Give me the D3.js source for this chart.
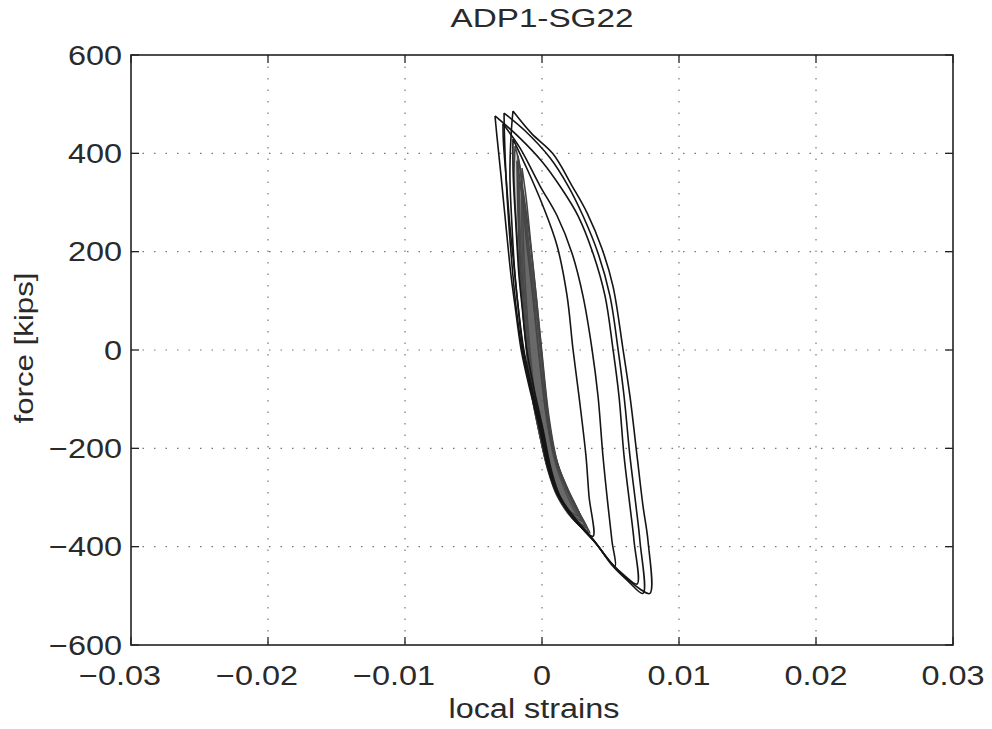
<!DOCTYPE html>
<html lang="en">
<head>
<meta charset="utf-8">
<title>ADP1-SG22</title>
<script src="https://cdnjs.cloudflare.com/ajax/libs/d3/7.8.5/d3.min.js"></script>
<style>
  body { margin: 0; background: #fff; }
  text { font-family: "Liberation Sans", Arial, sans-serif; fill: #2a2a2a; }
</style>
</head>
<body>
<div id="viz"></div>
<script>
// tick values and labels
const xTicks = [-0.03, -0.02, -0.01, 0, 0.01, 0.02, 0.03];
const xTickLabels = ["\u22120.03", "\u22120.02", "\u22120.01", "0", "0.01", "0.02", "0.03"];
const yTicks = [-600, -400, -200, 0, 200, 400, 600];
const yTickLabels = ["\u2212600", "\u2212400", "\u2212200", "0", "200", "400", "600"];

// large cycles: [strain, force], unloading branch then reloading branch
const loop1 = [[-0.00212,486],[-0.00075,440],[0.0008,399],[0.00219,334],[0.00329,279],[0.00438,206],[0.00518,130],[0.00591,2],[0.00642,-94],[0.00694,-216],[0.00737,-317],[0.00774,-389],[0.00788,-495],
  [0.00715,-486],[0.00533,-442],[0.0038,-389],[0.00234,-344],[0.00117,-293],[0.00051,-236],[-0.00007,-155],[-0.0008,-73],[-0.00139,2],[-0.00175,90],[-0.00197,151],[-0.00219,252],[-0.00234,354],[-0.00226,435],[-0.00212,486]];
const loop2 = [[-0.00277,482],[-0.00124,446],[0.00058,391],[0.0019,334],[0.00299,273],[0.00409,197],[0.00496,110],[0.00555,2],[0.00599,-94],[0.00642,-216],[0.00686,-317],[0.00715,-389],[0.00737,-495],
  [0.00628,-470],[0.00518,-440],[0.00372,-385],[0.00226,-342],[0.0011,-291],[0.00044,-236],[-0.00015,-155],[-0.00088,-73],[-0.00146,2],[-0.0019,90],[-0.00212,151],[-0.00241,252],[-0.00263,354],[-0.00274,435],[-0.00277,482]];
const loop3 = [[-0.00343,476],[-0.00161,431],[0.00007,381],[0.00139,330],[0.00263,273],[0.00372,197],[0.0046,110],[0.00518,2],[0.00562,-94],[0.00599,-216],[0.00642,-317],[0.00672,-389],[0.00694,-476],
  [0.00599,-458],[0.00511,-435],[0.00365,-383],[0.00219,-340],[0.00102,-289],[0.00037,-234],[-0.00022,-155],[-0.00095,-73],[-0.00153,2],[-0.00197,90],[-0.00226,151],[-0.00263,252],[-0.00299,354],[-0.00329,435],[-0.00343,476]];
const loop4 = [[-0.00285,460],[-0.00161,411],[-0.00015,334],[0.0011,273],[0.00219,197],[0.00299,110],[0.00365,2],[0.00409,-94],[0.00445,-216],[0.00482,-317],[0.00511,-389],[0.00533,-440],
  [0.00387,-391],[0.00241,-346],[0.00124,-295],[0.00058,-240],[0,-159],[-0.00073,-77],[-0.00131,-2],[-0.00175,90],[-0.00197,151],[-0.00234,252],[-0.00263,354],[-0.00282,425],[-0.00285,460]];
const loop5 = [[-0.00212,429],[-0.00102,364],[0.00007,293],[0.0011,212],[0.00183,110],[0.00226,2],[0.0027,-94],[0.00321,-216],[0.00343,-297],[0.00372,-379],
  [0.00241,-342],[0.00131,-297],[0.00066,-242],[0.00007,-161],[-0.00058,-79],[-0.0011,-2],[-0.00146,90],[-0.00168,151],[-0.0019,252],[-0.0021,354],[-0.00212,429]];

// small repeated cycles (dense band)
const band1 = [[-0.00197,415],[-0.00161,374],[-0.00124,267],[-0.00078,151],[-0.00032,12],[0.00032,-134],[0.00088,-216],[0.00172,-277],[0.00277,-338],[0.0035,-372],
  [0.00219,-342],[0.0011,-297],[0.00044,-246],[-0.00015,-175],[-0.00073,-94],[-0.00117,12],[-0.00161,151],[-0.0019,267],[-0.00204,354],[-0.00197,415]];
const band2 = [[-0.00175,395],[-0.00143,334],[-0.00104,232],[-0.00058,130],[-0.00012,12],[0.00044,-134],[0.001,-220],[0.00186,-281],[0.00292,-342],[0.00336,-368],
  [0.00219,-340],[0.00117,-295],[0.00051,-244],[-0.00007,-175],[-0.00066,-94],[-0.0011,12],[-0.00146,130],[-0.00168,252],[-0.00175,395]];
const band3 = [[-0.00146,370],[-0.00117,313],[-0.0008,212],[-0.00042,110],[-0.00005,8],[0.0005,-134],[0.00106,-222],[0.00178,-283],[0.00263,-334],[0.00314,-358],
  [0.00204,-334],[0.0011,-291],[0.00044,-240],[-0.00007,-175],[-0.00058,-94],[-0.00095,12],[-0.00131,130],[-0.00148,252],[-0.00146,370]];
const band4 = [[-0.00168,344],[-0.00128,293],[-0.0009,191],[-0.0005,90],[-0.00012,-2],[0.00036,-134],[0.00085,-216],[0.00156,-277],[0.00241,-328],[0.00292,-348],
  [0.0019,-328],[0.00102,-287],[0.00037,-236],[-0.00015,-175],[-0.00066,-94],[-0.00102,8],[-0.00139,130],[-0.00161,252],[-0.00168,344]];
const band5 = [[-0.00139,324],[-0.00106,263],[-0.00066,171],[-0.00028,69],[0.00007,-33],[0.00056,-155],[0.00113,-230],[0.00192,-287],[0.00277,-338],
  [0.00175,-322],[0.00095,-283],[0.00037,-232],[-0.00007,-175],[-0.00051,-94],[-0.00088,-2],[-0.00117,110],[-0.00137,232],[-0.00139,324]];
const band6 = [[-0.00183,385],[-0.0015,324],[-0.0011,212],[-0.00064,100],[-0.0002,-12],[0.00036,-144],[0.00093,-220],[0.00178,-281],[0.00277,-334],[0.00329,-362],
  [0.00212,-338],[0.0011,-293],[0.00044,-242],[-0.00015,-175],[-0.00073,-94],[-0.00117,8],[-0.00153,130],[-0.00175,273],[-0.00183,385]];

const bigLoops = [loop1, loop2, loop3, loop4, loop5];
const bandLoops = [band1, band2, band3, band4, band5, band6];

const width = 992;
const height = 729;
const marginLeft = 131, marginRight = 39, marginTop = 55, marginBottom = 84;
const stretch = 1.2;   // glyphs in the scan are wider than the font

const svg = d3.select("#viz").append("svg")
  .attr("width", width)
  .attr("height", height);

const x = d3.scaleLinear().domain([-0.03, 0.03]).range([marginLeft, width - marginRight]);
const y = d3.scaleLinear().domain([-600, 600]).range([height - marginBottom, marginTop]);

// dotted grid
svg.append("g").selectAll("line")
  .data(xTicks.slice(1, -1))
  .join("line")
    .attr("x1", d => x(d)).attr("x2", d => x(d))
    .attr("y1", y(600)).attr("y2", y(-600))
    .attr("stroke", "#777").attr("stroke-width", 1.2)
    .attr("stroke-dasharray", "1.5,10");
svg.append("g").selectAll("line")
  .data(yTicks.slice(1, -1))
  .join("line")
    .attr("y1", d => y(d)).attr("y2", d => y(d))
    .attr("x1", x(-0.03)).attr("x2", x(0.03))
    .attr("stroke", "#777").attr("stroke-width", 1.2)
    .attr("stroke-dasharray", "1.5,10");

// inward ticks on all four sides
const tickLen = 8;
const frame = svg.append("g").attr("stroke", "#222").attr("stroke-width", 1.3);
xTicks.forEach(d => {
  frame.append("line").attr("x1", x(d)).attr("x2", x(d)).attr("y1", y(-600)).attr("y2", y(-600) - tickLen);
  frame.append("line").attr("x1", x(d)).attr("x2", x(d)).attr("y1", y(600)).attr("y2", y(600) + tickLen);
});
yTicks.forEach(d => {
  frame.append("line").attr("y1", y(d)).attr("y2", y(d)).attr("x1", x(-0.03)).attr("x2", x(-0.03) + tickLen);
  frame.append("line").attr("y1", y(d)).attr("y2", y(d)).attr("x1", x(0.03)).attr("x2", x(0.03) - tickLen);
});
frame.append("rect")
  .attr("x", x(-0.03)).attr("y", y(600))
  .attr("width", x(0.03) - x(-0.03)).attr("height", y(-600) - y(600))
  .attr("fill", "none").attr("stroke-width", 1.6);

// hysteresis curves
const line = d3.line()
  .x(d => x(d[0]))
  .y(d => y(d[1]))
  .curve(d3.curveCatmullRom.alpha(0.5));

// the many small cycles overlap into a dark stippled band
svg.append("g").selectAll("path")
  .data(bandLoops)
  .join("path")
    .attr("d", line)
    .attr("fill", "#555")
    .attr("fill-opacity", 0.3)
    .attr("stroke", "#444")
    .attr("stroke-width", 1.5);

svg.append("g").selectAll("path")
  .data(bigLoops)
  .join("path")
    .attr("d", line)
    .attr("fill", "none")
    .attr("stroke", "#151515")
    .attr("stroke-width", 1.6);

// tick labels
const fs = 27;
svg.append("g").selectAll("text")
  .data(xTicks)
  .join("text")
    .attr("class", "wide")
    .attr("x", (d, i) => x(d) - (d < 0 ? 11 : 0))
    .attr("y", y(-600) + 40)
    .attr("text-anchor", "middle")
    .attr("font-size", fs)
    .text((d, i) => xTickLabels[i]);

svg.append("g").selectAll("text")
  .data(yTicks)
  .join("text")
    .attr("class", "wide")
    .attr("x", x(-0.03) - 9)
    .attr("y", d => y(d))
    .attr("dy", "0.36em")
    .attr("text-anchor", "end")
    .attr("font-size", fs)
    .text((d, i) => yTickLabels[i]);

// titles
svg.append("text")
  .attr("class", "wide title")
  .attr("x", (x(-0.03) + x(0.03)) / 2)
  .attr("y", 27)
  .attr("text-anchor", "middle")
  .attr("font-size", 25)
  .text("ADP1-SG22");

svg.append("text")
  .attr("class", "wide")
  .attr("x", (x(-0.03) + x(0.03)) / 2 - 8)
  .attr("y", 718)
  .attr("text-anchor", "middle")
  .attr("font-size", fs)
  .text("local strains");

svg.append("text")
  .attr("class", "wide")
  .attr("transform", `translate(33, ${y(0) - 2}) rotate(-90)`)
  .attr("text-anchor", "middle")
  .attr("font-size", 26)
  .text("force [kips]");

// widen glyphs to match the scanned lettering
svg.selectAll("text.wide").each(function() {
  const w = this.getComputedTextLength();
  const k = this.classList.contains("title") ? 1.33 : stretch;
  d3.select(this).attr("textLength", w * k).attr("lengthAdjust", "spacingAndGlyphs");
});
</script>
</body>
</html>
